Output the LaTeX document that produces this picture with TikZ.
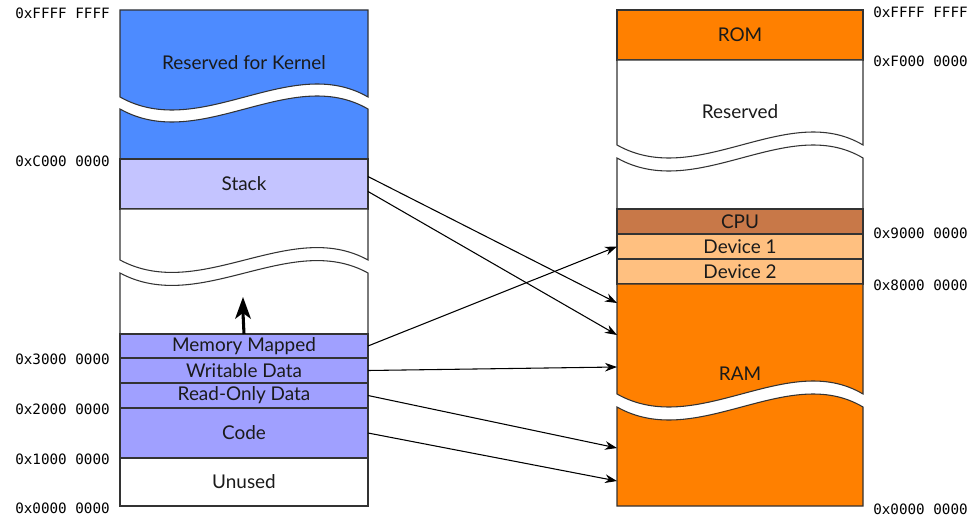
\documentclass[tikz,border=0pt]{standalone}
\usepackage{fontspec}
\setmainfont{Lato}
\setmonofont{DejaVu Sans Mono}
\usetikzlibrary{arrows.meta}
\definecolor{kernelc}{HTML}{4D8BFF}
\definecolor{stackc}{HTML}{C4C4FF}
\definecolor{segc}{HTML}{A0A0FF}
\definecolor{orangec}{HTML}{FF8000}
\definecolor{cpuc}{HTML}{C87848}
\definecolor{devc}{HTML}{FFC080}
\definecolor{edgec}{HTML}{333333}
\definecolor{textc}{HTML}{1A1A1A}
\tikzset{
  seg/.style={draw=edgec, line width=0.8pt, inner sep=0pt, outer sep=0pt, anchor=north west,
    text=textc, font=\fontsize{14.2pt}{16pt}\selectfont},
  leftseg/.style={seg, minimum width=186pt},
  rightseg/.style={seg, minimum width=184.5pt},
  brk/.style={draw=edgec, line width=0.8pt},
  lab/.style={text=textc, font=\fontsize{14.2pt}{16pt}\selectfont, inner sep=0pt},
  addr/.style={font=\ttfamily\fontsize{10.7pt}{12pt}\selectfont, text=black, inner sep=0pt},
  conn/.style={draw=black, line width=0.8pt, -{Stealth[length=9pt,width=6.5pt]}},
}
\begin{document}
\begin{tikzpicture}[x=0.75pt,y=-0.75pt]
\useasboundingbox (0,0) rectangle (980,517);

% ---------------- left column ----------------
% kernel (broken)
\path[brk, fill=kernelc] (120,97) .. controls (200,142) and (290,52) .. (368,97) -- (368,10) -- (120,10) -- cycle;
\path[brk, fill=kernelc] (120,109) .. controls (200,154) and (290,64) .. (368,109) -- (368,159) -- (120,159) -- cycle;
\node[lab] (kernel) at (244,63) {Reserved for Kernel};

\node[leftseg, fill=stackc, minimum height=37.5pt] (stack) at (120,159) {Stack};

% free area (broken)
\path[brk, fill=white] (120,260) .. controls (200,303) and (290,217) .. (368,260) -- (368,209) -- (120,209) -- cycle;
\path[brk, fill=white] (120,273) .. controls (200,316) and (290,230) .. (368,273) -- (368,334) -- (120,334) -- cycle;
\coordinate (grow) at (243,297);
\coordinate (growbase) at (243,313);

\node[leftseg, fill=segc, minimum height=18pt] (mm) at (120,334) {Memory Mapped};
\node[leftseg, fill=segc, minimum height=18.75pt] (wd) at (120,358) {Writable Data};
\node[leftseg, fill=segc, minimum height=18.75pt] (rod) at (120,383) {Read-Only Data};
\node[leftseg, fill=segc, minimum height=37.5pt] (code) at (120,408) {Code};
\node[leftseg, fill=white, minimum height=36pt] (unused) at (120,458) {Unused};

% growth arrow
\draw[line width=2.3pt] (mm.north) -- (growbase);
\fill[black] (grow) -- (251,319) -- (growbase) -- (235,319) -- cycle;

% left addresses
\node[addr, anchor=east] (la1) at (110,13) {0xFFFF FFFF};
\node[addr, anchor=east] (la2) at (110,161) {0xC000 0000};
\node[addr, anchor=east] (la3) at (110,359) {0x3000 0000};
\node[addr, anchor=east] (la4) at (110,409) {0x2000 0000};
\node[addr, anchor=east] (la5) at (110,459) {0x1000 0000};
\node[addr, anchor=east] (la6) at (110,508) {0x0000 0000};

% ---------------- right column ----------------
\node[rightseg, fill=orangec, minimum height=37.5pt] (rom) at (617,10) {ROM};

\path[brk, fill=white] (617,145) .. controls (697,190) and (787,100) .. (863,145) -- (863,60) -- (617,60) -- cycle;
\path[brk, fill=white] (617,158) .. controls (697,203) and (787,113) .. (863,158) -- (863,209) -- (617,209) -- cycle;
\node[lab] (reserved) at (740,112) {Reserved};

\node[rightseg, fill=cpuc, minimum height=18.75pt] (cpu) at (617,209) {CPU};
\node[rightseg, fill=devc, minimum height=18.75pt] (dev1) at (617,234) {Device 1};
\node[rightseg, fill=devc, minimum height=18.75pt] (dev2) at (617,259) {Device 2};

\path[brk, fill=orangec] (617,394) .. controls (697,439) and (787,349) .. (863,394) -- (863,284) -- (617,284) -- cycle;
\path[brk, fill=orangec] (617,407) .. controls (697,452) and (787,362) .. (863,407) -- (863,506) -- (617,506) -- cycle;
\node[lab] (ram) at (740,374) {RAM};

% right addresses
\node[addr, anchor=west] (ra1) at (873,12) {0xFFFF FFFF};
\node[addr, anchor=west] (ra2) at (873,61) {0xF000 0000};
\node[addr, anchor=west] (ra3) at (873,233) {0x9000 0000};
\node[addr, anchor=west] (ra4) at (873,285) {0x8000 0000};
\node[addr, anchor=west] (ra5) at (873,509) {0x0000 0000};

% connector end points on RAM's left edge
\coordinate (ramA) at (617,303);
\coordinate (ramB) at (617,335);
\coordinate (ramC) at (617,367);
\coordinate (ramD) at (617,448);
\coordinate (ramE) at (617,481);

% ---------------- connectors ----------------
\draw[conn] ([yshift=5.6pt]stack.east) -- (ramA);
\draw[conn] ([yshift=-5.6pt]stack.east) -- (ramB);
\draw[conn] (mm.east) -- (dev1.west);
\draw[conn] (wd.east) -- (ramC);
\draw[conn] (rod.east) -- (ramD);
\draw[conn] (code.east) -- (ramE);
\end{tikzpicture}
\end{document}
